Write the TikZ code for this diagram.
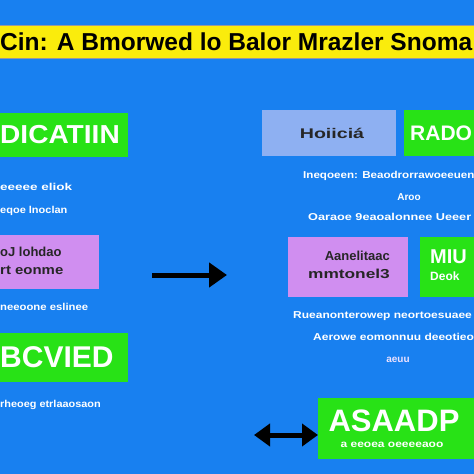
\documentclass[tikz,border=0pt]{standalone}
\usepackage{fontspec}
\usepackage{graphicx}
\setmainfont{Liberation Sans}
\usetikzlibrary{arrows.meta}
\definecolor{bgblue}{RGB}{24,128,240}
\definecolor{ybar}{RGB}{250,236,12}
\definecolor{gbox}{RGB}{40,226,22}
\definecolor{pbox}{RGB}{208,142,240}
\definecolor{lbox}{RGB}{142,176,242}
\definecolor{ptext}{RGB}{235,225,255}
\newcommand{\sx}[2]{\scalebox{#1}[1]{#2}}
\tikzset{
  greenbox/.style={fill=gbox, draw=none, inner sep=0pt, anchor=north west},
  purplebox/.style={fill=pbox, draw=none, inner sep=0pt, anchor=north west},
  bluebox/.style={fill=lbox, draw=none, inner sep=0pt, anchor=north west},
  bigtext/.style={text=white, inner sep=0pt},
  small/.style={text=white, font=\bfseries\fontsize{10}{11}\selectfont, inner sep=0pt},
  darktext/.style={text=black!85, font=\bfseries\fontsize{13}{14}\selectfont, inner sep=0pt},
  bigarrow/.style={line width=5pt, -{Triangle[length=18pt,width=24pt]}},
  dblarrow/.style={line width=5pt, {Triangle[length=16pt,width=22pt]}-{Triangle[length=16pt,width=22pt]}}
}
\begin{document}
\begin{tikzpicture}[x=1pt,y=-1pt]
\path[use as bounding box, fill=bgblue] (0,0) rectangle (474,474);
% title band
\node[fill=ybar, draw=black!40, line width=0.6pt, minimum width=480, minimum height=33, anchor=north west, inner sep=0pt] (band) at (-3,25) {};
\node[font=\bfseries\fontsize{21}{22}\selectfont, text=black, anchor=west, inner sep=0pt] (title) at (0,41.5) {\resizebox{472pt}{!}{\sx{1}{Cin: A Bmorwed lo Balor Mrazler Snoma}}};
% left column
\node[greenbox, minimum width=128, minimum height=44] (dic) at (0,113) {};
\node[bigtext, anchor=west, font=\bfseries\fontsize{26}{27}\selectfont] (dict) at (0,135) {\sx{1.08}{DICATIIN}};
\node[small, anchor=west] (l1) at (0,187) {\sx{1.35}{eeeee eliok}};
\node[small, anchor=west] (l2) at (0,211) {\sx{1.1}{eqoe lnoclan}};
\node[purplebox, minimum width=99, minimum height=54] (pl) at (0,235) {};
\node[darktext, anchor=west] (pl1) at (0,252) {oJ lohdao};
\node[darktext, anchor=west] (pl2) at (0,270) {\sx{1.15}{rt eonme}};
\node[small, anchor=west] (l3) at (0,307) {\sx{1.13}{neeoone eslinee}};
\node[greenbox, minimum width=128, minimum height=49] (bcv) at (0,333) {};
\node[bigtext, anchor=west, font=\bfseries\fontsize{30}{31}\selectfont] (bcvt) at (0,357) {BCVIED};
\node[small, anchor=west] (l4) at (0,405) {\sx{1.09}{rheoeg etrlaaosaon}};
% middle arrow
\coordinate (a1) at (152,275);
\coordinate (a2) at (227,275);
\draw[bigarrow] (a1) -- (a2);
% right column
\node[bluebox, minimum width=134, minimum height=46] (hoi) at (262,110) {};
\node[darktext, font=\bfseries\fontsize{14}{15}\selectfont] (hoit) at (332,133) {\sx{1.4}{Hoiiciá}};
\node[greenbox, minimum width=80, minimum height=46] (rad) at (404,110) {};
\node[bigtext, font=\bfseries\fontsize{21}{22}\selectfont, anchor=west] (radt) at (410,133) {RADO};
\node[small, anchor=west] (r1) at (303,176) {\sx{1.16}{Ineqoeen: Beaodrorrawoeeuen}};
\node[small] (r2) at (409,197) {Aroo};
\node[small, anchor=west] (r3) at (308,217) {\sx{1.27}{Oaraoe 9eaoalonnee Ueeer}};
\node[purplebox, minimum width=120, minimum height=60] (pr) at (288,237) {};
\node[darktext, anchor=east] (pr1) at (390,256) {Aanelitaac};
\node[darktext, anchor=east] (pr2) at (390,274) {\sx{1.33}{mmtonel3}};
\node[greenbox, minimum width=60, minimum height=60] (miu) at (420,237) {};
\node[bigtext, font=\bfseries\fontsize{20}{21}\selectfont, anchor=west] (miut) at (430,257) {MIU};
\node[bigtext, font=\bfseries\fontsize{12}{13}\selectfont, anchor=west] (miub) at (430,276) {Deok};
\node[small, anchor=west] (r4) at (293,316) {\sx{1.2}{Rueanonterowep neortoesuaee}};
\node[small, anchor=west] (r5) at (313,337) {\sx{1.2}{Aerowe eomonnuu deeotieo}};
\node[small, text=ptext] (r6) at (398,360) {aeuu};
\node[greenbox, minimum width=160, minimum height=61] (asa) at (318,398) {};
\node[bigtext, font=\bfseries\fontsize{31}{32}\selectfont] (asat) at (394,421) {ASAADP};
\node[small] (asab) at (392,445) {\sx{1.2}{a eeoea oeeeeaoo}};
% double arrow
\coordinate (d1) at (254,435);
\coordinate (d2) at (318,435);
\draw[dblarrow] (d1) -- (d2);
\end{tikzpicture}
\end{document}
